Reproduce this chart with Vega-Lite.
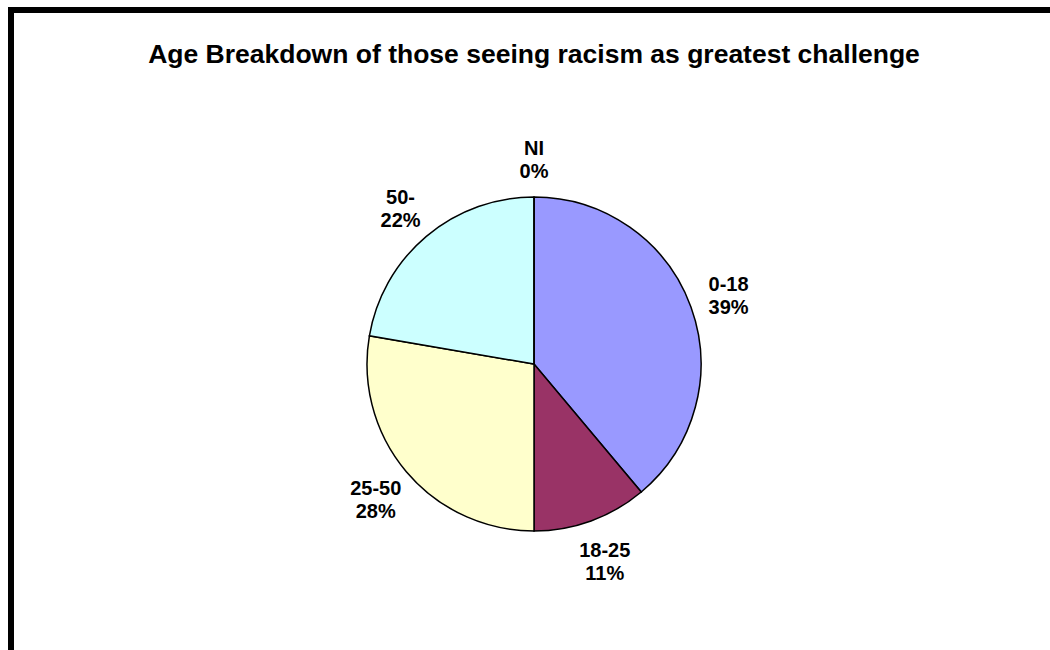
{
  "$schema": "https://vega.github.io/schema/vega-lite/v6.json",
  "width": 1046,
  "height": 708,
  "autosize": {"type": "none"},
  "padding": {"left": 11, "top": 10, "right": -7, "bottom": -68},
  "background": "white",
  "view": {"stroke": "black", "strokeWidth": 6, "fill": "white"},
  "title": {
    "text": "Age Breakdown of those seeing racism as greatest challenge",
    "font": "Liberation Sans",
    "fontSize": 26.5,
    "fontWeight": "bold",
    "color": "black",
    "anchor": "middle",
    "frame": "group",
    "baseline": "alphabetic",
    "offset": -79
  },
  "data": {
    "values": [
      {"age": "0-18", "pct": 38.9},
      {"age": "18-25", "pct": 11.1},
      {"age": "25-50", "pct": 27.7},
      {"age": "50-", "pct": 22.3},
      {"age": "NI", "pct": 0.0}
    ]
  },
  "transform": [
    {"calculate": "[datum.age, format(datum.pct, '.0f') + '%']", "as": "label"}
  ],
  "encoding": {
    "theta": {"field": "pct", "type": "quantitative", "stack": true},
    "order": {"field": "age", "type": "nominal"}
  },
  "layer": [
    {
      "mark": {"type": "arc", "outerRadius": 167, "stroke": "black", "strokeWidth": 1.5},
      "encoding": {
        "color": {
          "field": "age",
          "type": "nominal",
          "scale": {
            "domain": ["0-18", "18-25", "25-50", "50-", "NI"],
            "range": ["#9999FF", "#993366", "#FFFFCC", "#CCFFFF", "#FFFFFF"]
          },
          "legend": null
        }
      }
    },
    {
      "mark": {
        "type": "text",
        "radius": 207,
        "dy": -8,
        "font": "Liberation Sans",
        "fontSize": 20,
        "fontWeight": "bold",
        "lineHeight": 23,
        "color": "black"
      },
      "encoding": {"text": {"field": "label"}}
    }
  ]
}
